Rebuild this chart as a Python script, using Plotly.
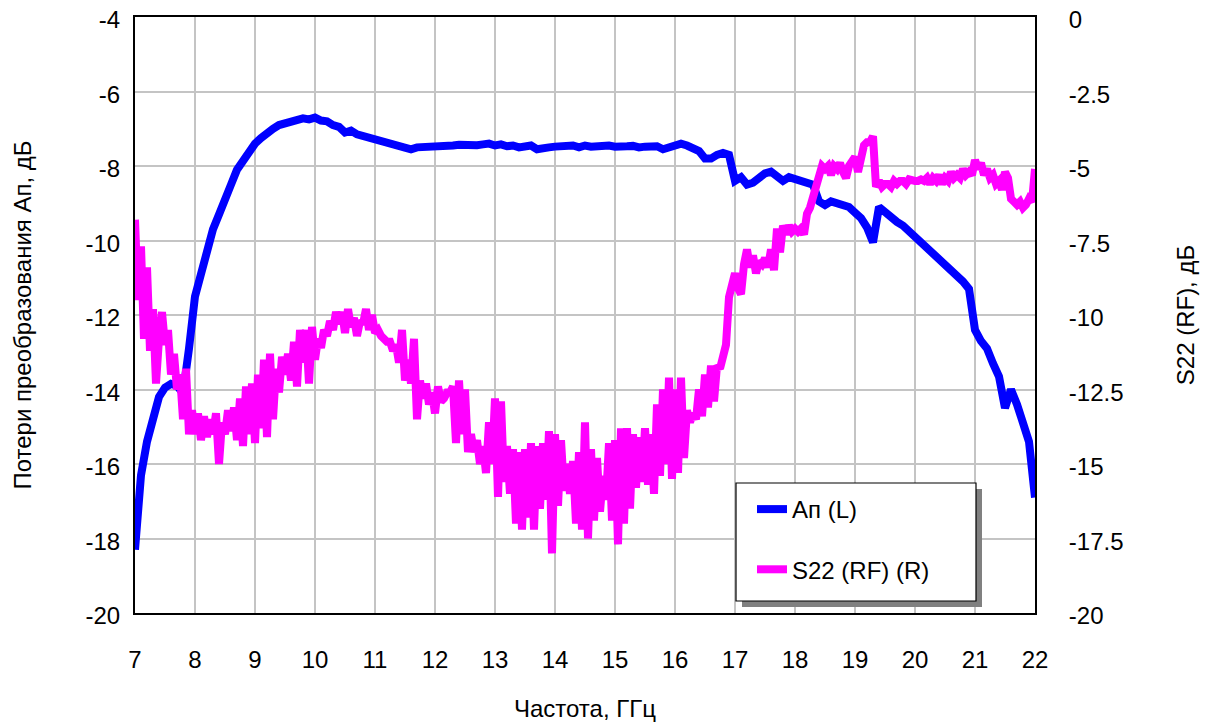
import plotly.graph_objects as go

# Frequency grids (GHz)
freq_ap = [round(7.0 + 0.1 * i, 2) for i in range(151)]
freq_s22 = [round(7.0 + 0.05 * i, 2) for i in range(301)]

# Conversion loss Ап, dB (left axis)
ap_db = [
    -18.3, -16.3, -15.4, -14.7, -14.2, -13.95, -13.85, -13.9, -14.1, -12.9,
    -11.5, -10.9, -10.2, -9.7, -9.3, -8.95, -8.5, -8.1, -7.85, -7.6,
    -7.4, -7.25, -7.1, -7.0, -6.9, -6.85, -6.8, -6.75, -6.72, -6.75,
    -6.7, -6.78, -6.8, -6.9, -6.95, -7.1, -7.05, -7.15, -7.2, -7.2,
    -7.25, -7.3, -7.35, -7.4, -7.45, -7.5, -7.55, -7.5, -7.5, -7.48,
    -7.45, -7.47, -7.45, -7.45, -7.43, -7.45, -7.42, -7.44, -7.42, -7.4,
    -7.45, -7.42, -7.47, -7.45, -7.5, -7.48, -7.45, -7.55, -7.5, -7.5,
    -7.48, -7.47, -7.5, -7.45, -7.5, -7.45, -7.48, -7.46, -7.47, -7.45,
    -7.48, -7.45, -7.47, -7.46, -7.5, -7.48, -7.5, -7.47, -7.55, -7.5,
    -7.45, -7.4, -7.45, -7.5, -7.6, -7.8, -7.8, -7.7, -7.65, -7.7,
    -8.4, -8.3, -8.5, -8.45, -8.3, -8.2, -8.15, -8.3, -8.4, -8.3,
    -8.35, -8.35, -8.4, -8.5, -8.95, -9.05, -8.95, -9.0, -9.05, -9.1,
    -9.25, -9.4, -9.65, -10.05, -9.1, -9.25, -9.35, -9.5, -9.6, -9.75,
    -9.9, -10.0, -10.15, -10.3, -10.45, -10.6, -10.75, -10.95, -11.1, -11.3,
    -12.4, -12.7, -12.9, -13.3, -13.65, -14.5, -14.0, -14.4, -14.9, -15.4,
    -16.9,
]

# S22 (RF), dB (right axis)
s22_db = [
    -6.8, -9.5, -7.7, -10.8, -8.4, -11.2, -9.8, -12.3, -10.8, -9.9,
    -11.0, -10.5, -12.0, -11.3, -12.5, -12.0, -13.5, -11.8, -14.0, -13.2,
    -14.0, -13.3, -14.2, -13.4, -14.1, -13.5, -14.0, -13.3, -15.0, -13.6,
    -14.0, -13.2, -13.9, -13.1, -14.2, -12.8, -14.4, -12.4, -14.0, -12.3,
    -14.3, -12.0, -13.8, -11.5, -14.1, -11.3, -13.5, -11.8, -12.6, -11.4,
    -12.0, -11.3, -12.2, -10.9, -12.4, -10.5, -11.6, -10.5, -12.3, -10.4,
    -11.5, -10.8, -11.1, -10.5, -10.7, -10.2, -10.5, -9.9, -10.3, -9.9,
    -10.6, -9.8, -10.4, -10.1, -10.7, -10.2, -10.3, -9.8, -10.5, -10.0,
    -10.6, -10.5, -10.7, -10.8, -10.9, -10.9, -11.2, -11.0, -11.6, -10.5,
    -12.2, -11.5, -12.3, -10.8, -13.5, -12.2, -12.8, -12.3, -13.0, -12.6,
    -13.3, -12.4, -12.9, -12.8, -12.6, -12.6, -12.4, -14.3, -12.2, -14.0,
    -12.5, -14.6, -14.0, -14.6, -14.2, -15.0, -14.4, -15.3, -13.6, -15.0,
    -12.8, -16.1, -12.9, -15.6, -14.4, -16.0, -14.5, -17.0, -14.6, -17.2,
    -14.5, -16.8, -14.3, -17.2, -14.4, -16.5, -14.3, -16.2, -13.9, -18.0,
    -14.0, -16.4, -14.2, -15.9, -15.0, -16.0, -14.9, -17.0, -14.6, -17.2,
    -13.6, -17.5, -14.5, -16.9, -14.8, -16.6, -15.4, -16.2, -14.3, -16.9,
    -14.2, -17.7, -13.8, -17.0, -13.8, -16.5, -14.0, -15.8, -14.1, -15.6,
    -13.8, -15.7, -14.0, -16.0, -13.0, -15.4, -12.5, -15.0, -12.1, -15.5,
    -12.5, -15.3, -12.1, -14.8, -13.2, -13.6, -13.3, -13.5, -12.5, -13.4,
    -12.0, -13.1, -11.7, -12.9, -11.7, -11.8, -11.5, -11.0, -9.4, -8.8,
    -8.6, -9.1, -9.3, -8.3, -7.8, -8.4, -8.0, -8.6, -8.2, -8.3,
    -8.1, -8.4, -7.8, -8.5, -7.1, -7.9, -7.0, -7.3, -7.0, -7.2,
    -7.1, -7.2, -7.1, -7.3, -6.6, -6.4, -6.0, -5.6, -5.2, -5.0,
    -5.1, -5.0, -5.3, -5.0, -5.1, -4.9, -5.2, -5.4, -5.0, -4.8,
    -4.7, -5.2, -4.7, -4.3, -4.2, -4.2, -4.0, -5.7, -5.5, -5.7,
    -5.6, -5.6, -5.7, -5.5, -5.6, -5.5, -5.5, -5.6, -5.45, -5.5,
    -5.5, -5.5, -5.45, -5.5, -5.4, -5.6, -5.4, -5.5, -5.3, -5.6,
    -5.4, -5.5, -5.2, -5.4, -5.3, -5.4, -5.1, -5.3, -5.2, -5.3,
    -4.8, -5.1, -4.9, -5.3, -5.1, -5.4, -5.3, -5.6, -5.5, -5.8,
    -5.2, -5.4, -6.1, -6.2, -6.3, -6.2, -6.4, -6.3, -6.1, -6.2,
    -5.1,
]

x_ticks = list(range(7, 23))
left_ticks = [-4, -6, -8, -10, -12, -14, -16, -18, -20]
left_tick_text = ["-4", "-6", "-8", "-10", "-12", "-14", "-16", "-18", "-20"]
right_ticks = [0, -2.5, -5, -7.5, -10, -12.5, -15, -17.5, -20]
right_tick_text = ["0", "-2.5", "-5", "-7.5", "-10", "-12.5", "-15", "-17.5", "-20"]

FONT = "Liberation Sans, Arial, sans-serif"
FS = 24

fig = go.Figure()
fig.add_trace(go.Scatter(
    x=freq_ap, y=ap_db, mode="lines", name="Ап (L)",
    line=dict(color="#0000ff", width=8), legendgroup="a", yaxis="y",
))
fig.add_trace(go.Scatter(
    x=freq_s22, y=s22_db, mode="lines", name="S22 (RF) (R)",
    line=dict(color="#ff00ff", width=8), legendgroup="b", yaxis="y2",
))

W, H = 1208, 722
L, R, T, B = 135, 173, 17, 109
PL, PT, PW, PH = L, T, W - L - R, H - T - B  # plot area in page pixels


def px(xp):
    return (xp - PL) / PW


def py(yp):
    return (PT + PH - yp) / PH


shapes = [
    dict(type="rect", xref="paper", yref="paper",
         x0=px(742), x1=px(982), y0=py(607), y1=py(489),
         fillcolor="#808080", line=dict(width=0), layer="above"),
    dict(type="rect", xref="paper", yref="paper",
         x0=px(736), x1=px(976), y0=py(601), y1=py(483),
         fillcolor="white", line=dict(color="black", width=1.2), layer="above"),
]

fig.update_layout(
    width=W, height=H,
    margin=dict(l=L, r=R, t=T, b=B, autoexpand=False),
    paper_bgcolor="white", plot_bgcolor="white",
    font=dict(family=FONT, size=FS, color="black"),
    showlegend=True,
    legend=dict(
        x=px(752), y=py(487), xanchor="left", yanchor="top",
        bgcolor="rgba(0,0,0,0)", borderwidth=0,
        font=dict(family=FONT, size=FS, color="black"),
        traceorder="grouped", tracegroupgap=26,
    ),
    shapes=shapes,
    xaxis=dict(
        range=[7, 22], tickmode="array", tickvals=x_ticks,
        showgrid=True, gridcolor="#c4c4c4", gridwidth=1.5,
        showline=True, linecolor="black", linewidth=2, mirror=True,
        ticks="", ticklabelstandoff=24, zeroline=False,
        title=dict(text="Частота, ГГц", font=dict(size=FS), standoff=32),
    ),
    yaxis=dict(
        range=[-20, -4], tickmode="array", tickvals=left_ticks, ticktext=left_tick_text,
        showgrid=True, gridcolor="#c4c4c4", gridwidth=1.5,
        showline=True, linecolor="black", linewidth=2, mirror=True,
        ticks="", ticklabelstandoff=8, ticklabelshift=3, zeroline=False,
        title=dict(text="Потери преобразования Ап, дБ", font=dict(size=FS), standoff=47),
    ),
    yaxis2=dict(
        range=[-20, 0], tickmode="array", tickvals=right_ticks, ticktext=right_tick_text,
        overlaying="y", side="right", showgrid=False,
        showline=True, linecolor="black", linewidth=2,
        ticks="", ticklabelstandoff=27, ticklabelshift=3, zeroline=False,
        title=dict(text="S22 (RF), дБ", font=dict(size=FS), standoff=55),
    ),
)

fig.write_html("out.html", config={"displayModeBar": False},
               post_script="document.body.style.margin='0';")
